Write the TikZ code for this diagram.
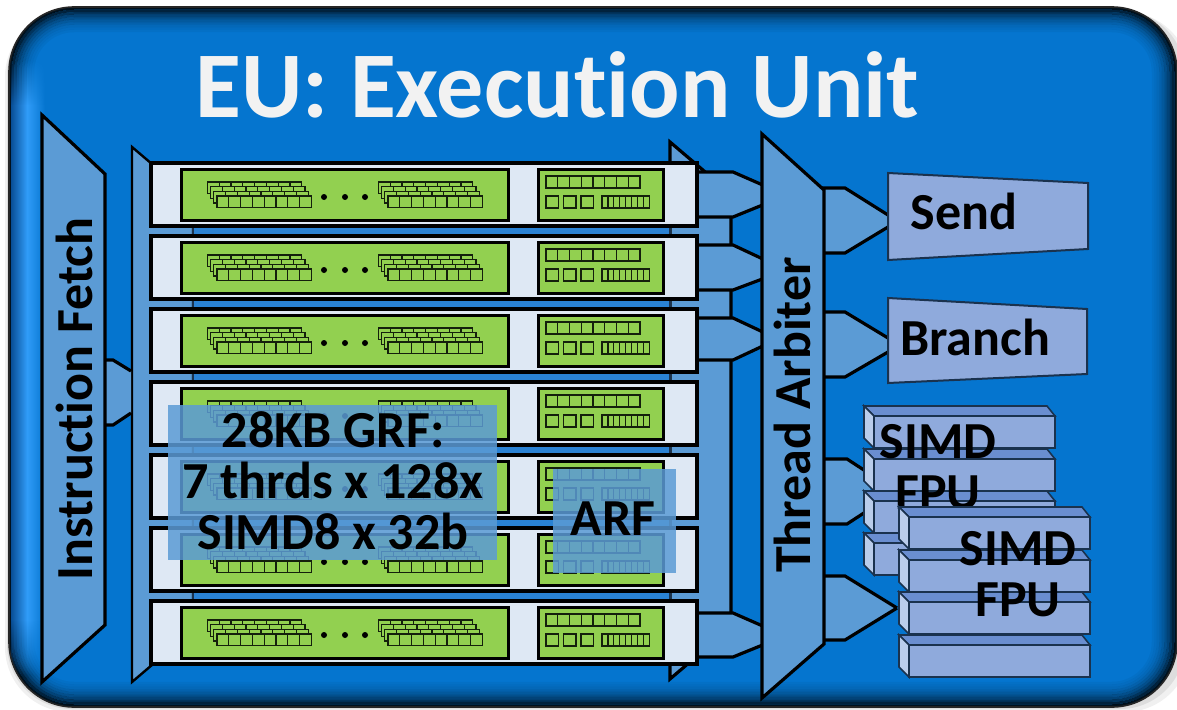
\documentclass[tikz,border=0pt]{standalone}
\usepackage{fontspec}
\setmainfont{Carlito}[Ligatures=NoCommon]
\usetikzlibrary{fadings}

\definecolor{eu_blue}{RGB}{5,117,207}
\definecolor{eu_light}{RGB}{91,155,213}
\definecolor{eu_gap}{RGB}{42,130,212}
\definecolor{eu_glow}{RGB}{48,156,248}
\definecolor{eu_edge}{RGB}{8,78,150}
\definecolor{eu_row}{RGB}{222,232,244}
\definecolor{eu_green}{RGB}{146,208,80}
\definecolor{eu_cell}{RGB}{20,32,12}
\definecolor{eu_dark}{RGB}{26,50,78}
\definecolor{eu_front}{RGB}{143,170,220}
\definecolor{eu_top}{RGB}{106,142,208}
\definecolor{eu_side}{RGB}{186,205,235}
\definecolor{eu_title}{RGB}{242,242,242}

\tikzset{
  blockshape/.style={draw=black,line width=3.2pt,line join=miter,fill=eu_light},
  rowbox/.style={draw=black,line width=3.2pt,fill=eu_row},
  greenbox/.style={draw=black,line width=3pt,fill=eu_green},
  regcell/.style={draw=eu_cell,line width=1.3pt,fill=eu_green},
  labelbig/.style={font=\fontsize{52}{51}\selectfont\bfseries,align=center,inner sep=0pt},
  opbox/.style={draw=eu_dark,line width=1.6pt,fill=eu_front},
  glassbox/.style={fill=eu_light,fill opacity=0.85},
  eurow/.pic={
    \draw[rowbox] (151,0) rectangle (697,63);
    \draw[greenbox] (181,6) rectangle (508,57);
    \draw[greenbox] (538,6) rectangle (663,57);
    \foreach \xs in {0,171} {
      \foreach \layer in {3,2,1,0} {
        \foreach \cell in {0,...,7} {
          \draw[regcell] ({217+\xs+\cell*11.8-\layer*3.2},{33-\layer*4.7}) rectangle ++(11.8,11.8);
        }
      }
    }
    \fill (324,34) circle (3pt);
    \fill (345,34) circle (3pt);
    \fill (365,34) circle (3pt);
    \foreach \cell in {0,...,7} {
      \draw[regcell] ({546+\cell*11.75},13) rectangle ++(11.75,12);
      \draw[regcell] ({602+\cell*5.9},33) rectangle ++(5.9,12);
    }
    \draw[regcell] (546,33) rectangle ++(12.5,12);
    \draw[regcell] (563.5,33) rectangle ++(12.5,12);
    \draw[regcell] (581,33) rectangle ++(12.5,12);
  },
  simdbox/.pic={
    \draw[opbox,fill=eu_top] (-10,-10) -- (173,-10) -- (181,0) -- (0,0) -- cycle;
    \draw[opbox,fill=eu_side] (-10,-10) -- (0,0) -- (0,32) -- (-10,22) -- cycle;
    \draw[opbox] (0,0) rectangle (181,32);
  }
}

\begin{document}
\begin{tikzpicture}[x=1pt,y=-1pt]
\useasboundingbox (0,0) rectangle (1177,709);
\fill[white] (0,0) rectangle (1177,709);

% frame with soft shadow
\fill[black,opacity=0.06,rounded corners=65pt] (5,12) rectangle (1190,712);
\fill[black,opacity=0.08,rounded corners=65pt] (7,10) rectangle (1185,709);
\begin{scope}
\clip[rounded corners=65pt] (9,7) rectangle (1177,707);
\fill[eu_blue] (9,7) rectangle (1177,707);
\foreach \inset/\op in {1.5/0.85,4/0.7,6.5/0.55,9/0.42,11.5/0.32,14/0.24,16.5/0.17,19/0.11,21.5/0.07,24/0.04} {
  \draw[black,opacity=\op,line width=2.5pt,rounded corners={(65-\inset)*1pt}] (9+\inset,7+\inset) rectangle (1177-\inset,707-\inset);
}
% light strip down the left side
\shade[left color=eu_edge,right color=eu_glow] (11,105) rectangle (27,620);
\shade[left color=eu_glow,right color=eu_blue] (27,105) rectangle (45,620);
\shade[left color=eu_edge,right color=eu_glow,path fading=north] (11,60) rectangle (27,105);
\shade[left color=eu_glow,right color=eu_blue,path fading=north] (27,60) rectangle (45,105);
\shade[left color=eu_edge,right color=eu_glow,path fading=south] (11,620) rectangle (27,675);
\shade[left color=eu_glow,right color=eu_blue,path fading=south] (27,620) rectangle (45,675);
\end{scope}
\draw[black!85,line width=1.6pt,rounded corners=65pt] (9,7) rectangle (1177,707);

\node[text=eu_title,font=\fontsize{94}{94}\selectfont\bfseries,inner sep=0pt] (title) at (557.5,85) {EU: Execution Unit};

% back plates behind the rows
\draw[blockshape,line width=2.4pt] (132,147) -- (193,199) -- (193,630) -- (132,682) -- cycle;
\draw[blockshape] (670,142) -- (731,194) -- (731,627) -- (670,679) -- cycle;
\draw[draw=eu_dark,line width=2pt,fill=eu_gap] (193,170) rectangle (670,660);

% fetch to plate
\draw[blockshape] (131,371) -- (113,360) -- (100,360) -- (100,425) -- (113,425) -- (131,413);
\draw[blockshape] (42,115) -- (105,174) -- (105,625) -- (42,682) -- cycle;

% rows to arbiter
\draw[blockshape] (765,186) -- (733,172) -- (690,172) -- (690,217) -- (733,217) -- (765,204);
\draw[blockshape] (765,260) -- (733,245) -- (690,245) -- (690,290) -- (733,290) -- (765,278);
\draw[blockshape] (765,333) -- (733,318) -- (690,318) -- (690,360) -- (733,360) -- (765,345);
\draw[blockshape] (765,627) -- (733,613) -- (690,613) -- (690,657) -- (733,657) -- (765,644);

\pic at (0,163) {eurow};
\pic at (0,236) {eurow};
\pic at (0,309) {eurow};
\pic at (0,382) {eurow};
\pic at (0,455) {eurow};
\pic at (0,528) {eurow};
\pic at (0,601) {eurow};

% arbiter to units
\draw[blockshape] (888,215) -- (845,188) -- (820,188) -- (820,253) -- (845,253) -- (888,227);
\draw[blockshape] (888,338) -- (845,312) -- (820,312) -- (820,377) -- (845,377) -- (888,352);
\draw[blockshape] (870,474) -- (847,459) -- (820,459) -- (820,524) -- (847,524) -- (870,509);
\draw[blockshape] (897,608) -- (845,576) -- (820,576) -- (820,640) -- (845,640) -- (897,608);
\draw[blockshape] (762,134) -- (824,190) -- (824,644) -- (762,698) -- cycle;

\draw[opbox,line width=2pt] (888,173) -- (1088,183) -- (1088,249) -- (888,260) -- cycle;
\draw[opbox,line width=2pt] (888,298) -- (1087,309) -- (1087,374) -- (888,383) -- cycle;

\pic at (874,416) {simdbox};
\pic at (874,459) {simdbox};
\pic at (874,501) {simdbox};
\pic at (874,543) {simdbox};
\node[labelbig] (simda) at (938,467) {SIMD\\FPU};
\pic at (909,517) {simdbox};
\pic at (909,560) {simdbox};
\pic at (909,602) {simdbox};
\pic at (909,645) {simdbox};
\node[labelbig] (simdb) at (1018,574) {SIMD\\FPU};

\node[labelbig] (send) at (964,211) {Send};
\node[labelbig] (branch) at (975,337) {Branch};
\node[labelbig,rotate=90] (fetch) at (74,399) {Instruction Fetch};
\node[labelbig,rotate=90] (arbiter) at (792,415) {Thread Arbiter};

% overlays
\fill[glassbox] (168,405) rectangle (497,560);
\node[labelbig] (grf) at (333,481) {28KB GRF:\\7 thrds x 128x\\SIMD8 x 32b};
\fill[glassbox] (553,469) rectangle (676,573);
\node[labelbig] (arf) at (613,519) {ARF};
\end{tikzpicture}
\end{document}
